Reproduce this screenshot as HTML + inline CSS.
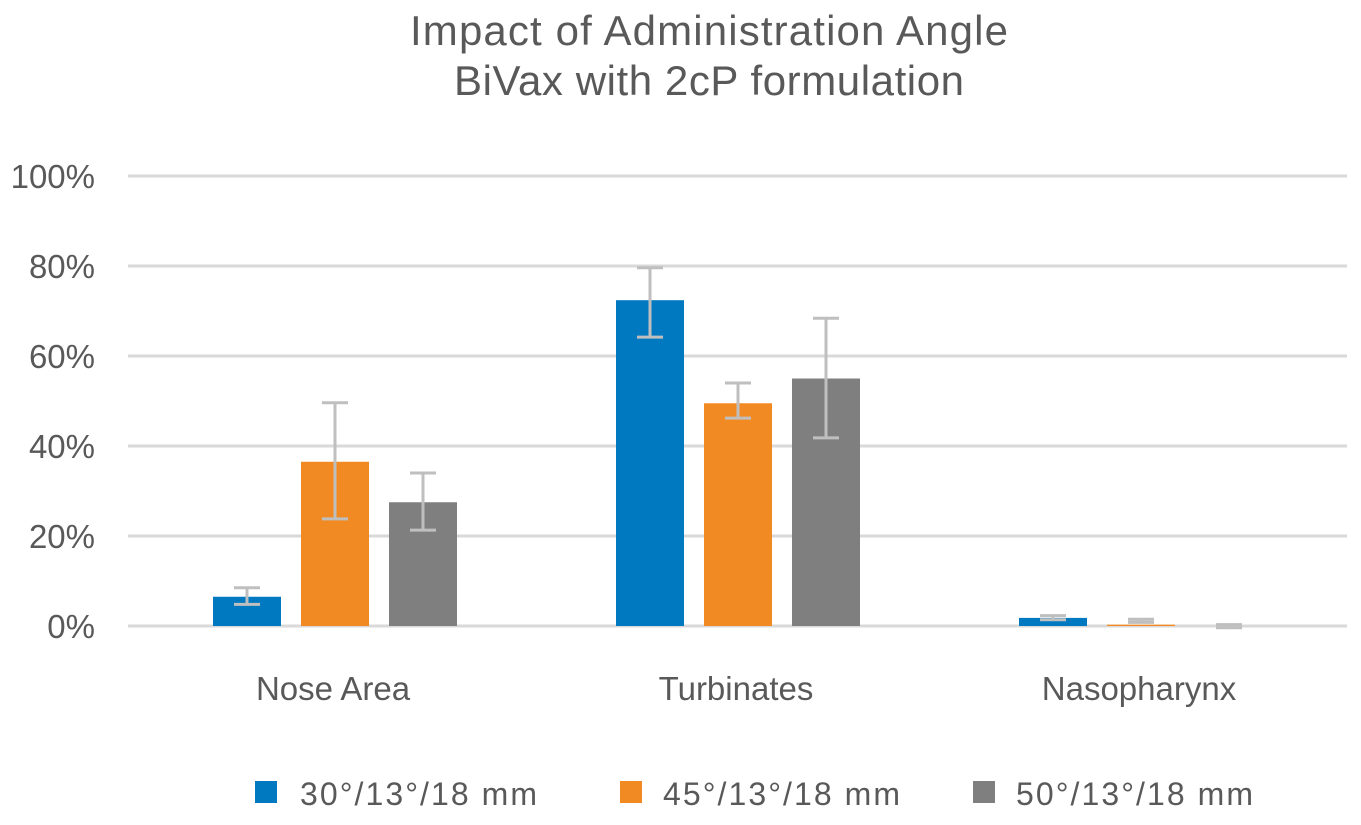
<!DOCTYPE html>
<html><head><meta charset="utf-8"><style>
body{margin:0;background:#fff;}
svg text{font-family:"Liberation Sans",sans-serif;fill:#595959;}
</style></head><body>
<svg id="chart" width="1361" height="820">
<text x="709" y="45" font-size="42" text-anchor="middle" textLength="598">Impact of Administration Angle</text>
<text x="709" y="95" font-size="42" text-anchor="middle" textLength="510">BiVax with 2cP formulation</text>
<g id="grid"></g><g id="bars"></g><g id="err"></g><g id="labels"></g>
<g>
<rect x="255" y="781" width="22" height="22" fill="#0079c1"/>
<text x="300" y="805" font-size="32" textLength="237">30°/13°/18 mm</text>
<rect x="620" y="781" width="22" height="22" fill="#f28a24"/>
<text x="663" y="805" font-size="32" textLength="237">45°/13°/18 mm</text>
<rect x="973" y="781" width="22" height="22" fill="#7f7f80"/>
<text x="1016" y="805" font-size="32" textLength="237">50°/13°/18 mm</text>
</g>
</svg>
<script>
const categories=["Nose Area","Turbinates","Nasopharynx"];
const series30=[6.5,72.4,1.8];
const series45=[36.5,49.5,0.3];
const series50=[27.5,55,0];
const err30=[[4.8,8.5],[64.2,79.6],[1.4,2.3]];
const err45=[[23.8,49.6],[46.2,54],[0.8,1.5]];
const err50=[[-0.4,0.3],[41.8,68.4],[-0.4,0.3]];
err50[0]=[21.3,34];
const ticks=[0,20,40,60,80,100];
const ns="http://www.w3.org/2000/svg";
const x0=128,x1=1347,y0=626,yTop=176;
const y=v=>y0-(v/100)*(y0-yTop);
function mk(t,a,p){const e=document.createElementNS(ns,t);for(const k in a)e.setAttribute(k,a[k]);document.getElementById(p).appendChild(e);return e;}
ticks.forEach(t=>{
 const l=mk('line',{x1:x0,x2:x1,y1:y(t),y2:y(t),stroke:'#d9d9d9','stroke-width':3},'grid');
 
 
 const tx=mk('text',{x:95,y:y(t)+12,'font-size':33,'text-anchor':'end'},'labels');
 tx.textContent=t+'%';
 
 
});
const S=[[series30,err30,'#0079c1','30'],[series45,err45,'#f28a24','45'],[series50,err50,'#7f7f80','50']];
const bw=68,gap=20;
categories.forEach((c,i)=>{
 const cx=335+i*403;
 S.forEach((s,j)=>{
  const bx=cx+(j-1)*(bw+gap)-bw/2;
  const v=s[0][i];
  const r=mk('rect',{x:bx,y:y(v),width:bw,height:y0-y(v),fill:s[2]},'bars');
  
  
  const [lo,hi]=s[1][i],ex=bx+bw/2;
  const g=mk('path',{d:`M${ex},${y(lo)}V${y(hi)}M${ex-13},${y(lo)}H${ex+13}M${ex-13},${y(hi)}H${ex+13}`,stroke:'#bfbfbf','stroke-width':3,fill:'none'},'err');
  
  
 });
 const t=mk('text',{x:cx-2,y:700,'font-size':33,'text-anchor':'middle'},'labels');
 t.textContent=c;
 
 
});
</script>
</body></html>
